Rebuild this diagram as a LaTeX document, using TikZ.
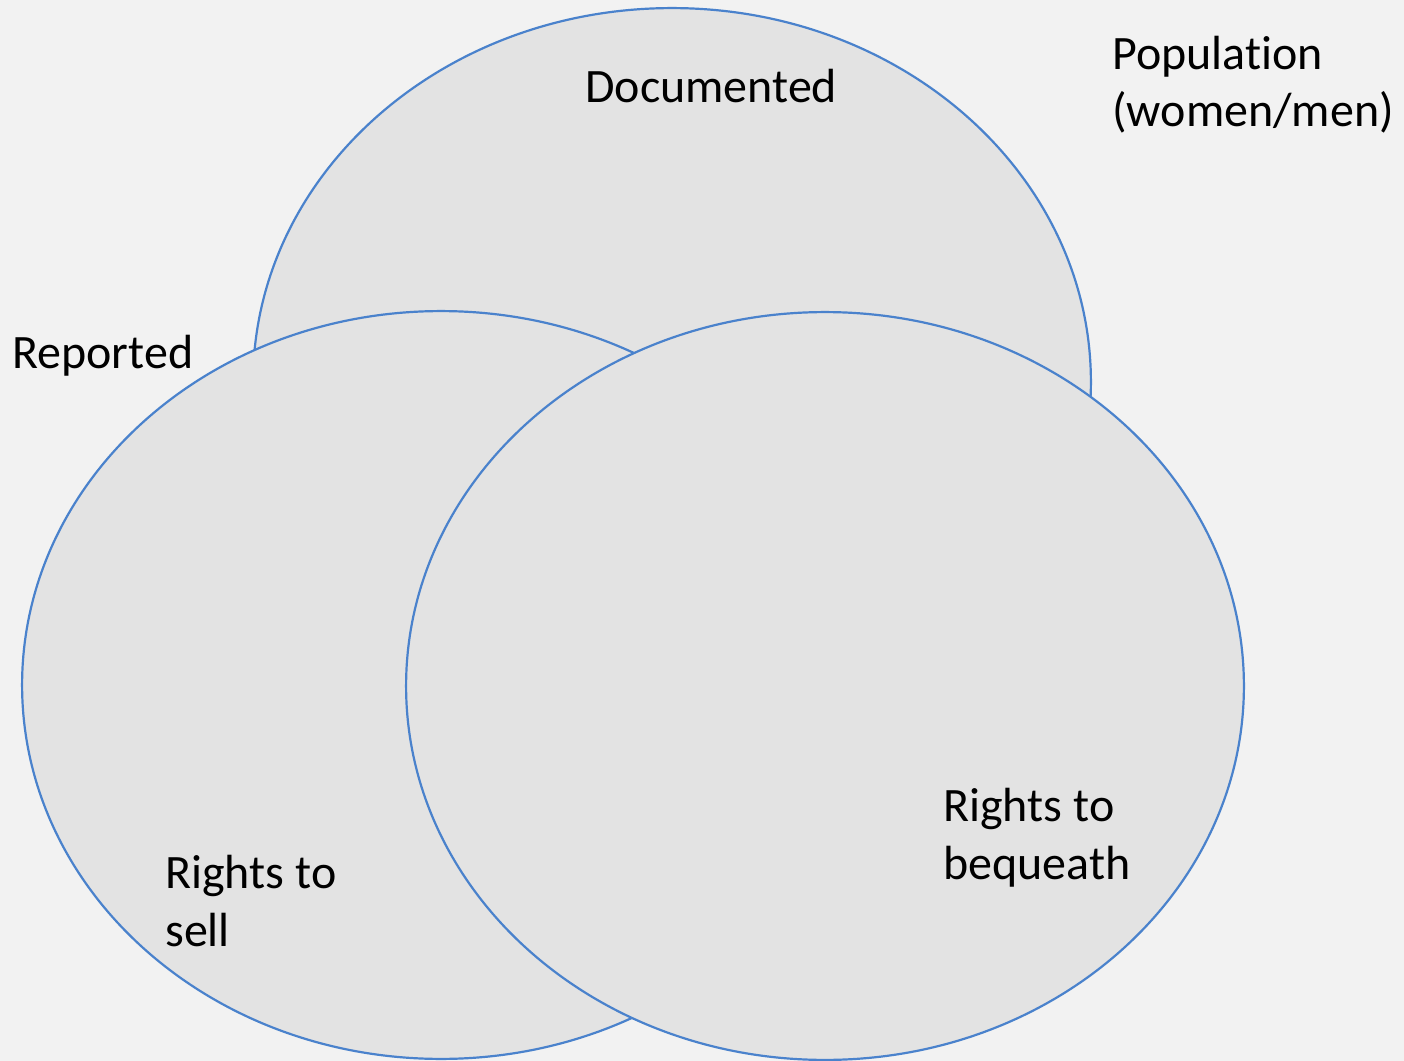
\documentclass[tikz,border=0pt]{standalone}
\usepackage{fontspec}
\setmainfont[Ligatures=NoCommon]{Carlito}
\usepackage{xcolor}
\usetikzlibrary{shapes.geometric,positioning}
\definecolor{bgback}{HTML}{F2F2F2}
\definecolor{vennfill}{HTML}{E3E3E3}
\definecolor{vennline}{HTML}{4A82CC}
\tikzset{
    venn/.style={ellipse, draw=vennline, fill=vennfill, line width=1.25pt, inner sep=0pt,
        minimum width=16.76cm, minimum height=14.96cm},
    lbl/.style={anchor=base west, align=left, inner sep=0pt,
        font=\fontsize{27.3}{33}\selectfont}
}

\begin{document}
\begin{tikzpicture}[x=0.02cm, y=-0.02cm]
    \fill[bgback] (0,0) rectangle (1404,1061);
    \useasboundingbox (0,0) rectangle (1404,1061);
    % the three sets
    \node [venn] (documented) at (672,382) {};
    \node [venn] (reported) at (441,685) {};
    \node [venn] (bequeath) at (825,686) {};
    % labels (base of the last line)
    \node [lbl] (doclbl) at (585,103) {Documented};
    \node [lbl] (poplbl) at (1112,127) {Population\\(women/men)};
    \node [lbl] (replbl) at (12,368) {Reported};
    \node [lbl] (selllbl) at (165,946) {Rights to\\sell};
    \node [lbl] (beqlbl) at (943,879) {Rights to\\bequeath};
\end{tikzpicture}
\end{document}
